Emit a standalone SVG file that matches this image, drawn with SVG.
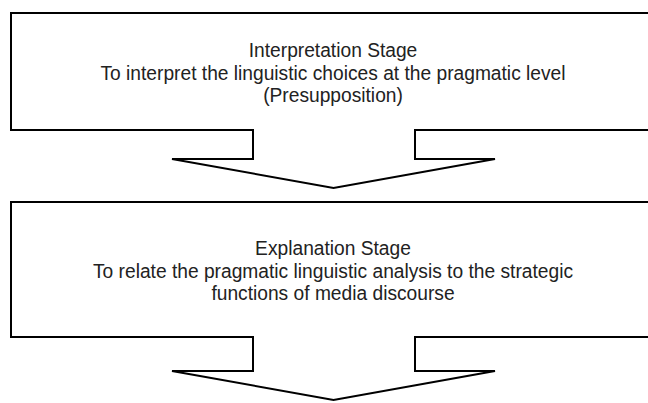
<svg xmlns="http://www.w3.org/2000/svg" width="648" height="403" viewBox="0 0 648 403">
<style>
.shape{fill:#fff;stroke:#000;stroke-width:2;stroke-linejoin:miter}
.t{font-family:"Liberation Sans",Arial,sans-serif;font-size:20px;fill:#222;text-anchor:middle}
</style>
<rect width="648" height="403" fill="#fff"/>
<g id="interpretation-stage">
<path class="shape" d="M11,13 H652 V130 H415 V159 H495 L333.5,188 L172,159 H253 V130 H11 Z"/>
<g transform="translate(333 0) scale(0.96 1)">
<text class="t" x="0" y="57">Interpretation Stage</text>
<text class="t" x="0" y="80">To interpret the linguistic choices at the pragmatic level</text>
<text class="t" x="0" y="102">(Presupposition)</text>
</g>
</g>
<g id="explanation-stage">
<path class="shape" d="M11,202 H652 V337 H415 V371 H495 L333.5,400 L172,371 H253 V337 H11 Z"/>
<g transform="translate(333 0) scale(0.96 1)">
<text class="t" x="0" y="255">Explanation Stage</text>
<text class="t" x="0" y="278">To relate the pragmatic linguistic analysis to the strategic</text>
<text class="t" x="0" y="300">functions of media discourse</text>
</g>
</g>
<g id="connectors"></g>
</svg>
